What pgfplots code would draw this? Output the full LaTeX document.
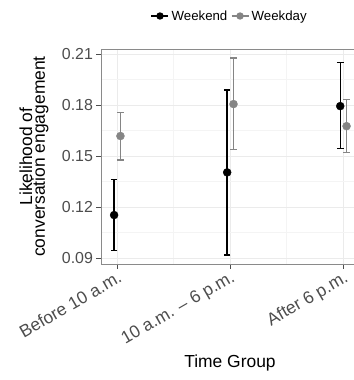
\documentclass[border=0pt]{standalone}
\usepackage{pgfplots}
\pgfplotsset{compat=1.18}
\usepackage{fontspec}
\setmainfont{Liberation Sans}
\definecolor{gridc}{HTML}{EBEBEB}
\definecolor{gridm}{HTML}{F4F4F4}
\definecolor{wkday}{HTML}{858585}
\definecolor{tickc}{HTML}{4D4D4D}
\definecolor{borderc}{HTML}{8A8A8A}
\pgfplotstableread{
x y ep em
0.974 0.1153 0.0210 0.0208
1.974 0.1404 0.0484 0.0486
2.974 0.1794 0.0255 0.0251
}\weekend
\pgfplotstableread{
x y ep em
1.030 0.1618 0.0139 0.0142
2.030 0.1806 0.0270 0.0266
3.030 0.1676 0.0158 0.0154
}\weekday
\begin{document}
\begin{tikzpicture}
\begin{axis}[
  at={(0,0)}, anchor=south west,
  scale only axis, width=258bp, height=215bp,
  xmin=0.858, xmax=3.14, ymin=0.0865, ymax=0.213,
  xtick={1,2,3},
  xticklabels={Before 10 a.m., 10 a.m. \textendash{} 6 p.m., After 6 p.m.},
  minor xtick={1.5,2.5},
  ytick={0.09,0.12,0.15,0.18,0.21},
  minor ytick={0.105,0.135,0.165,0.195},
  /pgf/number format/assume math mode=true,
  grid=both,
  major grid style={gridc, line width=0.7bp},
  minor grid style={gridm, line width=0.5bp},
  axis line style={borderc, line width=0.6bp},
  xtick pos=bottom, ytick pos=left,
  tick align=outside, major tick length=4.5bp, minor tick length=0pt,
  major tick style={tickc, line width=0.7bp},
  yticklabel style={font=\fontsize{16}{18}\selectfont, text=tickc, /pgf/number format/.cd, fixed, fixed zerofill, precision=2},
  xticklabel style={font=\fontsize{17.5}{19}\selectfont, text=tickc, rotate=30, anchor=north east, inner sep=1bp},
  ylabel={Likelihood of\\conversation engagement},
  ylabel style={align=center, font=\fontsize{17.5}{13}\selectfont, at={(axis description cs:0,0.5)}, anchor=center, yshift=67bp},
  xlabel={Time Group},
  xlabel style={font=\fontsize{17.5}{19}\selectfont, at={(axis description cs:0.5,0)}, anchor=center, yshift=-99bp},
  legend style={at={(axis description cs:0.5,1)}, anchor=center, yshift=33bp, draw=none, fill=none,
    legend columns=2, font=\fontsize{13.3}{15}\selectfont, inner sep=0pt,
    nodes={inner xsep=2.5bp},
    /tikz/every even column/.append style={column sep=1bp}},
  legend image code/.code={\draw[mark repeat=2, mark phase=2] plot coordinates {(0bp,0bp) (8.5bp,0bp) (17bp,0bp)};},
]
\addlegendimage{black, line width=1.3bp, mark=*, mark size=3bp}
\addlegendentry{Weekend}
\addlegendimage{wkday, line width=1.3bp, mark=*, mark size=3bp}
\addlegendentry{Weekday}
\addplot[forget plot, only marks, mark=*, mark size=4bp, black,
  error bars/.cd, y dir=both, y explicit,
  error bar style={line width=1.4bp, black},
  error mark options={mark size=3.3bp, line width=1.4bp, black, rotate=90}]
  table[x=x, y=y, y error plus=ep, y error minus=em] {\weekend};
\addplot[forget plot, only marks, mark=*, mark size=4bp, wkday,
  error bars/.cd, y dir=both, y explicit,
  error bar style={line width=1.4bp, wkday},
  error mark options={mark size=3.3bp, line width=1.4bp, wkday, rotate=90}]
  table[x=x, y=y, y error plus=ep, y error minus=em] {\weekday};
\end{axis}
\pgfresetboundingbox
\path[use as bounding box] (-101bp,-116bp) rectangle (253bp,264bp);
\end{tikzpicture}
\end{document}
